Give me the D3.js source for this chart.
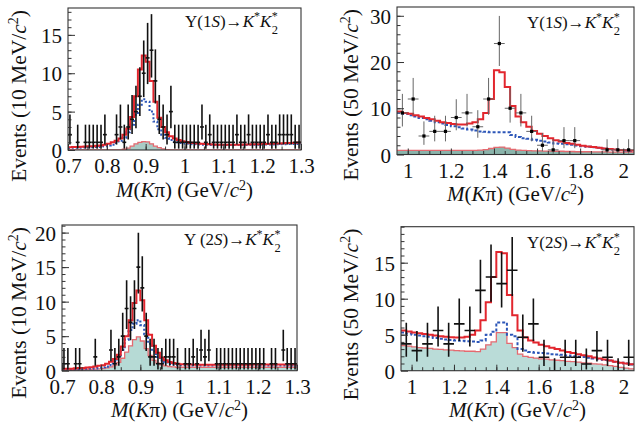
<!DOCTYPE html>
<html><head><meta charset="utf-8">
<script src="https://cdn.jsdelivr.net/npm/d3@7"></script>
<style>
body{margin:0;background:#fff}
svg{display:block;font-family:"Liberation Serif","Times New Roman",Times,serif}
svg text{font-family:"Liberation Serif","Times New Roman",Times,serif !important}
</style>
</head><body>
<svg id="c" width="635" height="426"></svg>
<script>
// ---------- data ----------
// Poisson 68% interval bounds for n = 0..25
const poissonLow  = [0,0.173,0.708,1.367,2.086,2.840,3.620,4.419,5.232,6.057,6.891,7.734,8.585,9.441,10.30,11.17,12.04,12.92,13.80,14.68,15.57,16.45,17.35,18.24,19.14,20.03];
const poissonHigh = [1.841,3.300,4.638,5.918,7.163,8.382,9.584,10.77,11.95,13.11,14.27,15.42,16.56,17.70,18.83,19.96,21.08,22.20,23.32,24.44,25.55,26.66,27.76,28.87,29.97,31.07];

// Y(1S), 10 MeV bins from 0.70 GeV
const y1sLowCounts = [2,0,1,0,1,1,1,1,1,2, 0,0,2,3,1,3,4,5,7,10, 12,13,9,4,3,2,5,1,1,1, 1,1,1,1,3,1,2,1,1,1, 1,1,1,2,1,1,2,1,1,1, 1,2,1,1,2,2,2,2,1,1];
const y1sLowTotal = [0.35,0.38,0.4,0.42,0.45,0.48,0.5,0.55,0.6,0.7, 0.8,1.0,1.2,1.5,2.0,2.8,4.3,7.0,10.5,12.3, 11.5,9.0,6.3,4.2,3.0,2.3,1.8,1.5,1.3,1.15, 1.05,0.95,0.9,0.85,0.8,0.78,0.75,0.72,0.7,0.7, 0.7,0.7,0.7,0.7,0.7,0.72,0.72,0.74,0.75,0.76, 0.78,0.8,0.82,0.84,0.86,0.88,0.9,0.92,0.95,0.98];
const y1sLowSignal = [0.25,0.28,0.3,0.3,0.32,0.35,0.38,0.4,0.45,0.5, 0.6,0.7,0.9,1.2,1.6,2.3,3.3,4.6,5.9,6.6, 6.3,5.0,3.7,2.7,2.0,1.6,1.3,1.1,1.0,0.9, 0.85,0.8,0.75,0.72,0.7,0.68,0.66,0.65,0.65,0.65, 0.65,0.65,0.65,0.65,0.65,0.66,0.67,0.68,0.69,0.7, 0.71,0.72,0.73,0.74,0.75,0.76,0.77,0.78,0.79,0.8];
const y1sLowBkg = [0,0,0,0,0,0,0,0,0,0, 0,0,0,0,0.1,0.25,0.5,0.8,1.0,1.1, 1.05,0.8,0.5,0.3,0.15,0.05,0,0,0,0, 0,0,0,0,0,0,0,0,0,0, 0,0,0,0,0,0,0,0,0,0, 0,0,0,0,0,0,0,0,0,0];

// Y(1S), 50 MeV data bins from 0.95 GeV; fit curves in 25 MeV bins
const y1sHighCounts = [9,12,4,5,5,8,9,6,12,24,10,9,5,2,1,3,3,null,null,1,1,1];
const y1sHighTotal = [9.3,9.0,8.8,8.5,8.2,7.9,7.6,7.3,7.0,6.8, 6.6,6.5,6.5,6.7,7.0,7.6,9.0,12.0,18.2,17.8, 14.6,10.5,8.2,7.0,6.0,5.1,4.5,4.0,3.5,3.1, 2.8,2.5,2.3,2.1,1.9,1.75,1.6,1.45,1.3,1.2, 1.1,1.0,0.9,0.85];
const y1sHighSignal = [9.0,8.8,8.5,8.2,7.9,7.6,7.3,7.0,6.7,6.4, 6.1,5.9,5.6,5.4,5.2,5.0,4.9,4.8,4.8,4.8, 4.8,4.2,3.8,3.5,3.4,3.2,3.0,2.8,2.6,2.4, 2.3,2.2,2.1,1.95,1.8,1.7,1.55,1.45,1.3,1.2, 1.05,0.95,0.85,0.8];
const y1sHighBkg = [0.9,0.9,0.9,0.9,0.9,0.9,0.9,0.9,0.9,0.9, 0.9,0.9,0.9,0.9,0.9,0.95,1.05,1.3,1.55,1.6, 1.4,1.1,0.95,0.9,0.85,0.8,0.8,0.75,0.75,0.7, 0.7,0.65,0.65,0.6,0.6,0.6,0.55,0.55,0.55,0.5, 0.5,0.5,0.5,0.5];

// Y(2S), 10 MeV bins from 0.70 GeV
const y2sLowCounts = [1,1,0,1,1,0,0,0,2,0, 0,0,3,1,2,5,9,7,9,15, 12,5,2,2,1,1,2,2,2,1, 0,1,1,2,1,3,2,3,0,1, 1,1,1,1,1,1,1,1,1,1, 1,1,0,1,1,0,3,1,1,1];
const y2sLowTotal = [0.3,0.3,0.3,0.35,0.4,0.4,0.45,0.5,0.6,0.7, 0.8,1.0,1.3,1.7,2.3,3.5,5.0,7.3,9.8,11.6, 10.2,7.3,5.2,3.6,2.6,1.9,1.5,1.25,1.1,1.0, 0.95,0.92,0.9,0.88,0.86,0.85,0.85,0.85,0.85,0.85, 0.85,0.85,0.85,0.85,0.85,0.85,0.86,0.87,0.88,0.89, 0.9,0.9,0.9,0.9,0.9,0.9,0.9,0.9,0.9,0.9];
const y2sLowSignal = [0.15,0.15,0.18,0.2,0.22,0.25,0.28,0.3,0.35,0.4, 0.5,0.6,0.8,1.3,2.0,3.0,4.5,5.9,6.8,7.3, 6.6,5.3,3.9,2.8,2.0,1.5,1.2,1.0,0.9,0.85, 0.8,0.8,0.78,0.78,0.76,0.76,0.75,0.75,0.75,0.75, 0.75,0.75,0.75,0.75,0.75,0.75,0.75,0.75,0.75,0.75, 0.75,0.75,0.75,0.75,0.75,0.75,0.75,0.75,0.75,0.75];
const y2sLowBkg = [0.1,0.1,0.1,0.12,0.14,0.16,0.18,0.2,0.22,0.25, 0.3,0.4,0.55,0.8,1.2,1.8,2.7,3.6,4.5,4.9, 4.3,3.2,2.2,1.5,1.1,0.85,0.7,0.6,0.55,0.5, 0.5,0.5,0.5,0.5,0.5,0.5,0.5,0.5,0.5,0.5, 0.5,0.5,0.5,0.5,0.5,0.5,0.5,0.5,0.5,0.5, 0.5,0.5,0.5,0.5,0.5,0.5,0.5,0.5,0.5,0.5];

// Y(2S), 50 MeV data bins (weighted entries) from 0.95 GeV; fit curves in 25 MeV bins
const y2sHighCounts = [4,3,4,6,4,7,6,12,14,13,15,5,7,2,0,2,2,1,3,2,0,2];
const y2sHighWeight = 0.93;
const y2sHighTotal = [5.6,5.45,5.3,5.2,5.1,5.0,4.9,4.8,4.7,4.65, 4.6,4.6,4.7,5.0,5.6,7.0,9.5,13.0,16.5,16.3, 10.5,7.7,5.6,4.6,4.2,3.9,3.6,3.4,3.2,3.0, 2.8,2.6,2.45,2.3,2.15,2.0,1.85,1.7,1.55,1.4, 1.25,1.1,1.0,0.9];
const y2sHighSignal = [5.3,5.15,5.0,4.9,4.8,4.7,4.55,4.45,4.35,4.25, 4.2,4.15,4.1,4.05,4.0,4.2,5.0,5.4,6.7,6.7, 5.0,4.8,3.0,2.8,2.6,2.5,2.45,2.4,2.3,2.25, 2.2,2.1,2.0,1.95,1.9,1.8,1.7,1.6,1.5,1.4, 1.25,1.1,1.0,0.85];
const y2sHighBkg = [3.5,3.4,3.3,3.2,3.15,3.1,3.0,2.95,2.9,2.85, 2.8,2.75,2.7,2.7,2.65,3.0,3.6,4.0,5.3,5.3, 3.8,3.2,2.3,2.0,1.85,1.75,1.65,1.6,1.5,1.45, 1.4,1.3,1.25,1.2,1.1,1.05,0.95,0.9,0.8,0.7, 0.6,0.45,0.35,0.25];

const lowTicks = [0.7,0.8,0.9,1.0,1.1,1.2,1.3];
const highTicks = [1.0,1.2,1.4,1.6,1.8,2.0];

// ---------- drawing ----------
const FONT = '"Liberation Serif","Times New Roman",Times,serif';
const INK = "#111";
const svg = d3.select("#c");

const panels = [
  {id:1, left:68, right:301, top:8, bottom:150, xDomain:[0.7,1.3], yDomain:[0,18.5],
   counts:y1sLowCounts, dataStart:0.7, dataWidth:0.01, weight:1, drawEmpty:false,
   total:y1sLowTotal, signal:y1sLowSignal, bkg:y1sLowBkg, curveStart:0.7, curveWidth:0.01,
   fillColor:"#a9cbc5", blueDash:"2,2", blueWidth:2, errColor:"#111", errWidth:1.6, marker:false,
   xMajor:lowTicks, xMinorStep:0.05, yMajor:[0,5,10,15], yMinorStep:1,
   title:["Υ(1","S",")→"], titleX:185, titleY:27,
   yTitle:"10", yTitleX:26, xTitleY:197},
  {id:2, left:397, right:634, top:7, bottom:154.5, xDomain:[0.95,2.05], yDomain:[0,31.9],
   counts:y1sHighCounts, dataStart:0.95, dataWidth:0.05, weight:1, drawEmpty:false,
   total:y1sHighTotal, signal:y1sHighSignal, bkg:y1sHighBkg, curveStart:0.95, curveWidth:0.025,
   fillColor:"#8ab4ab", blueDash:"3,2", blueWidth:2, errColor:"#666", errWidth:1, marker:true,
   xMajor:highTicks, xMinorStep:0.05, yMajor:[0,10,20,30], yMinorStep:2,
   title:["Υ(1","S",")→"], titleX:527, titleY:28,
   yTitle:"50", yTitleX:358, xTitleY:201},
  {id:3, left:62, right:297, top:225, bottom:370.7, xDomain:[0.7,1.3], yDomain:[0,21.1],
   counts:y2sLowCounts, dataStart:0.7, dataWidth:0.01, weight:1, drawEmpty:false,
   total:y2sLowTotal, signal:y2sLowSignal, bkg:y2sLowBkg, curveStart:0.7, curveWidth:0.01,
   fillColor:"#b6dad5", blueDash:"2,2", blueWidth:2.2, errColor:"#111", errWidth:1.6, marker:false,
   xMajor:lowTicks, xMinorStep:0.05, yMajor:[0,5,10,15,20], yMinorStep:1,
   title:["Υ (2","S",")→"], titleX:184, titleY:245,
   yTitle:"10", yTitleX:26, xTitleY:416.5},
  {id:4, left:401, right:634, top:226.7, bottom:370.7, xDomain:[0.95,2.05], yDomain:[0,20],
   counts:y2sHighCounts, dataStart:0.95, dataWidth:0.05, weight:y2sHighWeight, drawEmpty:true,
   total:y2sHighTotal, signal:y2sHighSignal, bkg:y2sHighBkg, curveStart:0.95, curveWidth:0.025,
   fillColor:"#badcd8", blueDash:"3,2", blueWidth:2, errColor:"#111", errWidth:1.6, marker:false,
   xMajor:highTicks, xMinorStep:0.05, yMajor:[0,5,10,15], yMinorStep:1,
   title:["Υ(2","S",")→"], titleX:527, titleY:248,
   yTitle:"50", yTitleX:358, xTitleY:416.5}
];

function stepRange(a, b, s) { const out = []; for (let v = a; v <= b + 1e-9; v += s) out.push(+v.toFixed(4)); return out; }
const fmtTick = d => String(+d.toFixed(2));

panels.forEach(p => {
  const x = d3.scaleLinear().domain(p.xDomain).range([p.left, p.right]);
  const y = d3.scaleLinear().domain(p.yDomain).range([p.bottom, p.top]);
  const g = svg.append("g");
  const clipId = "clip" + p.id;
  svg.append("clipPath").attr("id", clipId).append("rect")
    .attr("x", p.left).attr("y", p.top).attr("width", p.right - p.left).attr("height", p.bottom - p.top);
  const plot = g.append("g").attr("clip-path", `url(#${clipId})`);

  const stepPts = arr => {
    const pts = arr.map((v, i) => [p.curveStart + i * p.curveWidth, v]);
    pts.push([p.curveStart + arr.length * p.curveWidth, arr[arr.length - 1]]);
    return pts;
  };
  const line = d3.line().x(d => x(d[0])).y(d => y(d[1])).curve(d3.curveStepAfter);
  const area = d3.area().x(d => x(d[0])).y0(y(0)).y1(d => y(d[1])).curve(d3.curveStepAfter);

  plot.append("path").attr("d", area(stepPts(p.bkg))).attr("fill", p.fillColor);
  plot.append("path").attr("d", line(stepPts(p.bkg))).attr("fill", "none")
    .attr("stroke", "#e46a70").attr("stroke-width", 1.3);
  plot.append("path").attr("d", line(stepPts(p.signal))).attr("fill", "none")
    .attr("stroke", "#2c56b8").attr("stroke-width", p.blueWidth).attr("stroke-dasharray", p.blueDash);
  plot.append("path").attr("d", line(stepPts(p.total))).attr("fill", "none")
    .attr("stroke", "#e2262e").attr("stroke-width", 2);

  // data points
  const pts = p.counts.map((n, i) => ({n, c: p.dataStart + (i + 0.5) * p.dataWidth}))
    .filter(d => d.n !== null && (d.n > 0 || p.drawEmpty));
  const dg = plot.append("g").attr("stroke", p.errColor).attr("stroke-width", p.errWidth);
  dg.selectAll("line.v").data(pts).join("line").attr("class", "v")
    .attr("x1", d => x(d.c)).attr("x2", d => x(d.c))
    .attr("y1", d => y(d.n > 0 ? poissonLow[d.n] * p.weight : 0))
    .attr("y2", d => y(poissonHigh[d.n] * p.weight));
  dg.selectAll("line.h").data(pts).join("line").attr("class", "h")
    .attr("x1", d => x(d.c - p.dataWidth / 2)).attr("x2", d => x(d.c + p.dataWidth / 2))
    .attr("y1", d => y(d.n * p.weight)).attr("y2", d => y(d.n * p.weight));
  if (p.marker) {
    plot.append("g").selectAll("rect").data(pts).join("rect")
      .attr("x", d => x(d.c) - 1.6).attr("y", d => y(d.n * p.weight) - 1.6)
      .attr("width", 3.2).attr("height", 3.2).attr("fill", "#000");
  }

  // frame
  g.append("rect").attr("x", p.left).attr("y", p.top)
    .attr("width", p.right - p.left).attr("height", p.bottom - p.top)
    .attr("fill", "none").attr("stroke", "#333").attr("stroke-width", 1.1);

  // axes
  const styleAxis = sel => {
    sel.attr("font-family", null).attr("font-size", null);
    sel.select(".domain").remove();
    sel.selectAll("line").attr("stroke", "#333").attr("stroke-width", 1);
    sel.selectAll("text").style("font-family", FONT).style("font-size", "21px").attr("fill", INK);
  };
  const dropText = sel => sel.selectAll("text").remove();
  const xMinor = stepRange(p.xDomain[0], p.xDomain[1], p.xMinorStep).filter(v => v > p.xDomain[0] + 1e-6 && v < p.xDomain[1] - 1e-6);
  g.append("g").attr("transform", `translate(0,${p.bottom})`)
    .call(d3.axisBottom(x).tickValues(xMinor).tickSize(-3.5).tickFormat(""))
    .call(styleAxis).call(dropText);
  g.append("g").attr("transform", `translate(0,${p.bottom})`)
    .call(d3.axisBottom(x).tickValues(p.xMajor).tickSize(-6).tickFormat(fmtTick))
    .call(styleAxis)
    .call(s => s.selectAll("text").attr("y", 23).attr("dy", 0));
  const yMinor = stepRange(p.yDomain[0], p.yDomain[1], p.yMinorStep).filter(v => v > 0);
  g.append("g").attr("transform", `translate(${p.left},0)`)
    .call(d3.axisLeft(y).tickValues(yMinor).tickSize(-3.5).tickFormat(""))
    .call(styleAxis).call(dropText);
  g.append("g").attr("transform", `translate(${p.left},0)`)
    .call(d3.axisLeft(y).tickValues(p.yMajor).tickSize(-7).tickPadding(6).tickFormat(d3.format("d")))
    .call(styleAxis)
    .call(s => s.selectAll("text").attr("dy", "0.36em"));

  // title: main part, then the stacked * and 2 of K*_2 as separate labels
  const t = g.append("text").attr("x", p.titleX).attr("y", p.titleY)
    .style("font-family", FONT).style("font-size", "17px").attr("fill", INK);
  t.append("tspan").text(p.title[0]);
  t.append("tspan").attr("font-style", "italic").text(p.title[1]);
  t.append("tspan").text(p.title[2]);
  t.append("tspan").attr("font-style", "italic").text("K");
  t.append("tspan").attr("dy", -7).style("font-size", "12px").text("*");
  t.append("tspan").attr("dy", 7).attr("font-style", "italic").text("K");
  const endX = p.titleX + t.node().getComputedTextLength() + 0.5;
  g.append("text").attr("x", endX).attr("y", p.titleY - 7.5)
    .style("font-family", FONT).style("font-size", "12px").attr("fill", INK).text("*");
  g.append("text").attr("x", endX).attr("y", p.titleY + 6.5)
    .style("font-family", FONT).style("font-size", "12.5px").attr("fill", INK).text("2");

  // y title
  const yt = g.append("text")
    .attr("transform", `translate(${p.yTitleX},${p.top + 2}) rotate(-90)`)
    .attr("text-anchor", "end").style("font-family", FONT).style("font-size", "21.5px").attr("fill", INK);
  yt.append("tspan").text(`Events (${p.yTitle} MeV/`);
  yt.append("tspan").attr("font-style", "italic").text("c");
  yt.append("tspan").attr("dy", -8).style("font-size", "14px").text("2");
  yt.append("tspan").attr("dy", 8).text(")");

  // x title
  const xt = g.append("text").attr("x", (p.left + p.right) / 2).attr("y", p.xTitleY)
    .attr("text-anchor", "middle").style("font-family", FONT).style("font-size", "21px").attr("fill", INK);
  xt.append("tspan").attr("font-style", "italic").text("M");
  xt.append("tspan").text("(");
  xt.append("tspan").attr("font-style", "italic").text("K");
  xt.append("tspan").text("π) (GeV/");
  xt.append("tspan").attr("font-style", "italic").text("c");
  xt.append("tspan").attr("dy", -7).style("font-size", "14px").text("2");
  xt.append("tspan").attr("dy", 7).text(")");
});
</script>
</body></html>
